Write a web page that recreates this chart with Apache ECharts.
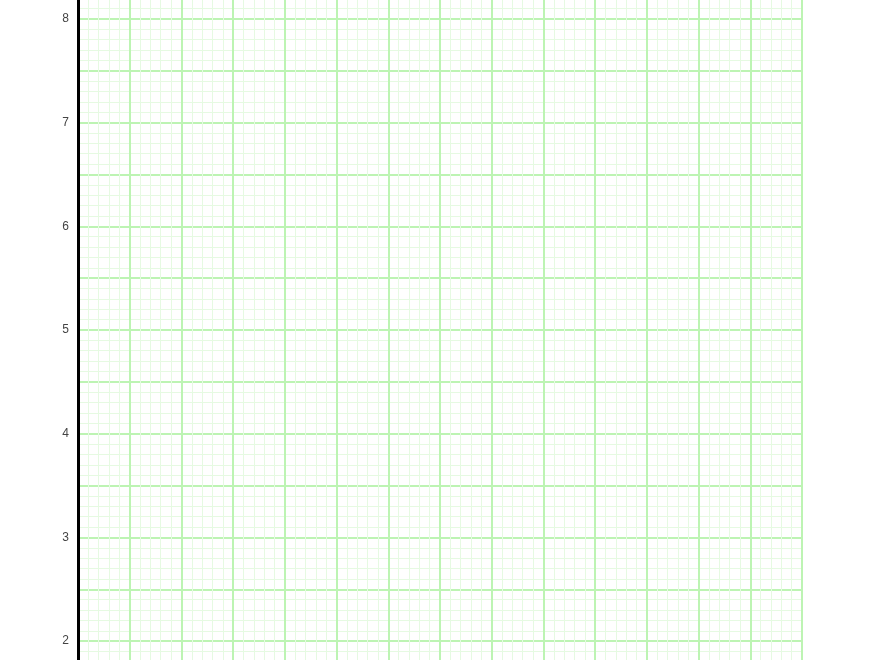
<!DOCTYPE html>
<html>
<head>
<meta charset="utf-8">
<script src="https://cdn.jsdelivr.net/npm/echarts@6/dist/echarts.min.js"></script>
<style>
html,body{margin:0;padding:0;background:#fff;overflow:hidden;width:880px;height:660px;}
#c{position:absolute;left:0;top:-33px;width:880px;height:726px;}
</style>
</head>
<body>
<div id="c"></div>
<script>
// Axis ranges and tick settings (graph paper)
const xRange = [0, 7];
const yRange = [1.5, 8.5];
const majorStep = [0.5];
const minorSplit = [5];
const yTickLabels = ['2', '3', '4', '5', '6', '7', '8'];

const chart = echarts.init(document.getElementById('c'));
const splitStyle = { show: true, lineStyle: { color: '#bdf4b3', width: 2 } };
const minorStyle = { show: true, lineStyle: { color: '#e6fae2', width: 1 } };
chart.setOption({
  animation: false,
  grid: { left: 78, right: 78, top: 0, bottom: 0, containLabel: false },
  xAxis: {
    type: 'value', min: xRange[0], max: xRange[1], interval: majorStep[0],
    axisLine: { show: false }, axisTick: { show: false }, axisLabel: { show: false },
    splitLine: splitStyle,
    minorTick: { show: false, splitNumber: minorSplit[0] },
    minorSplitLine: minorStyle
  },
  yAxis: {
    type: 'value', min: yRange[0], max: yRange[1], interval: majorStep[0],
    axisLine: { show: true, onZero: false, lineStyle: { color: '#000', width: 3 } },
    axisTick: { show: false },
    axisLabel: {
      color: '#444', fontSize: 12, margin: 9, fontFamily: 'sans-serif',
      formatter: function (v) { const s = String(v); return yTickLabels.indexOf(s) >= 0 ? s : ''; }
    },
    splitLine: splitStyle,
    minorTick: { show: false, splitNumber: minorSplit[0] },
    minorSplitLine: minorStyle
  },
  series: []
});
</script>
</body>
</html>
